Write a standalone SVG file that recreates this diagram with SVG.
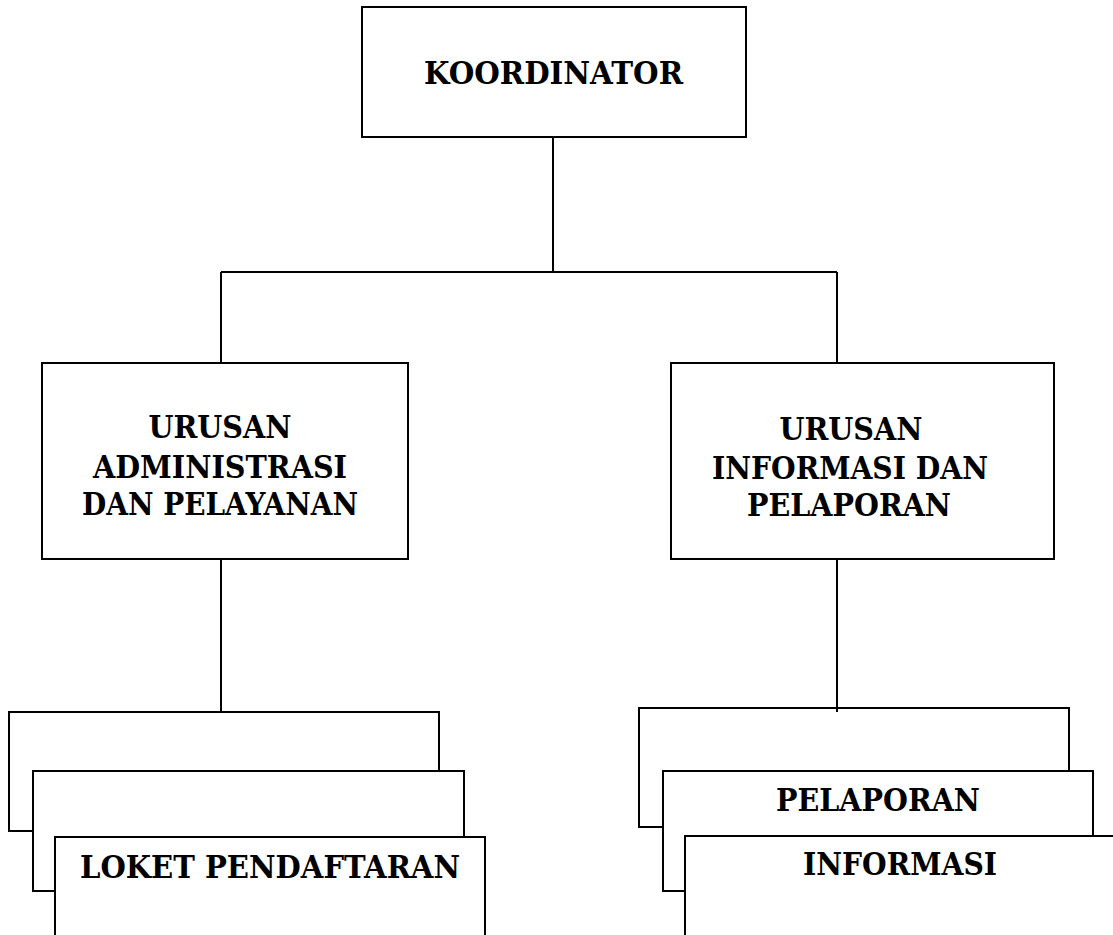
<svg xmlns="http://www.w3.org/2000/svg" width="1113" height="935" viewBox="0 0 1113 935">
<style>
.box{fill:#fff;stroke:#000;stroke-width:2}
.ln{fill:none;stroke:#000;stroke-width:2}
.t{font-family:"DejaVu Serif","Liberation Serif",serif;font-weight:bold;font-size:31px;fill:#000;text-anchor:middle}
</style>
<rect width="1113" height="935" fill="#fff"/>
<g id="connectors">
<path class="ln" d="M553,137V272M221,272H837M221,272V363M837,272V363M221,559V712M837,559V712"/>
</g>
<g id="koordinator">
<rect class="box" x="362" y="7" width="384" height="130"/>
<text class="t" x="553.5" y="84" textLength="259" lengthAdjust="spacingAndGlyphs">KOORDINATOR</text>
</g>
<g id="urusan-admin">
<rect class="box" x="42" y="363" width="366" height="196"/>
<text class="t" x="220" y="438" textLength="143" lengthAdjust="spacingAndGlyphs">URUSAN</text>
<text class="t" x="220" y="478" textLength="254" lengthAdjust="spacingAndGlyphs">ADMINISTRASI</text>
<text class="t" x="220" y="515" textLength="276" lengthAdjust="spacingAndGlyphs">DAN PELAYANAN</text>
</g>
<g id="urusan-info">
<rect class="box" x="671" y="363" width="383" height="196"/>
<text class="t" x="851" y="440" textLength="143" lengthAdjust="spacingAndGlyphs">URUSAN</text>
<text class="t" x="850" y="479" textLength="276" lengthAdjust="spacingAndGlyphs">INFORMASI DAN</text>
<text class="t" x="849" y="516" textLength="204" lengthAdjust="spacingAndGlyphs">PELAPORAN</text>
</g>
<g id="left-stack-1">
<rect class="box" x="9" y="712" width="430" height="119"/>
</g>
<g id="left-stack-2">
<rect class="box" x="33" y="771" width="431" height="120"/>
</g>
<g id="loket-pendaftaran">
<rect class="box" x="55" y="837" width="430" height="120"/>
<text class="t" x="270" y="878" textLength="380" lengthAdjust="spacingAndGlyphs">LOKET PENDAFTARAN</text>
</g>
<g id="right-stack-1">
<rect class="box" x="639" y="708" width="430" height="119"/>
</g>
<g id="pelaporan">
<rect class="box" x="663" y="771" width="430" height="120"/>
<text class="t" x="878" y="811" textLength="204" lengthAdjust="spacingAndGlyphs">PELAPORAN</text>
</g>
<g id="informasi">
<rect class="box" x="685" y="836" width="440" height="120"/>
<text class="t" x="900" y="875" textLength="194" lengthAdjust="spacingAndGlyphs">INFORMASI</text>
</g>
<path class="ln" d="M837,700V712"/>
</svg>
